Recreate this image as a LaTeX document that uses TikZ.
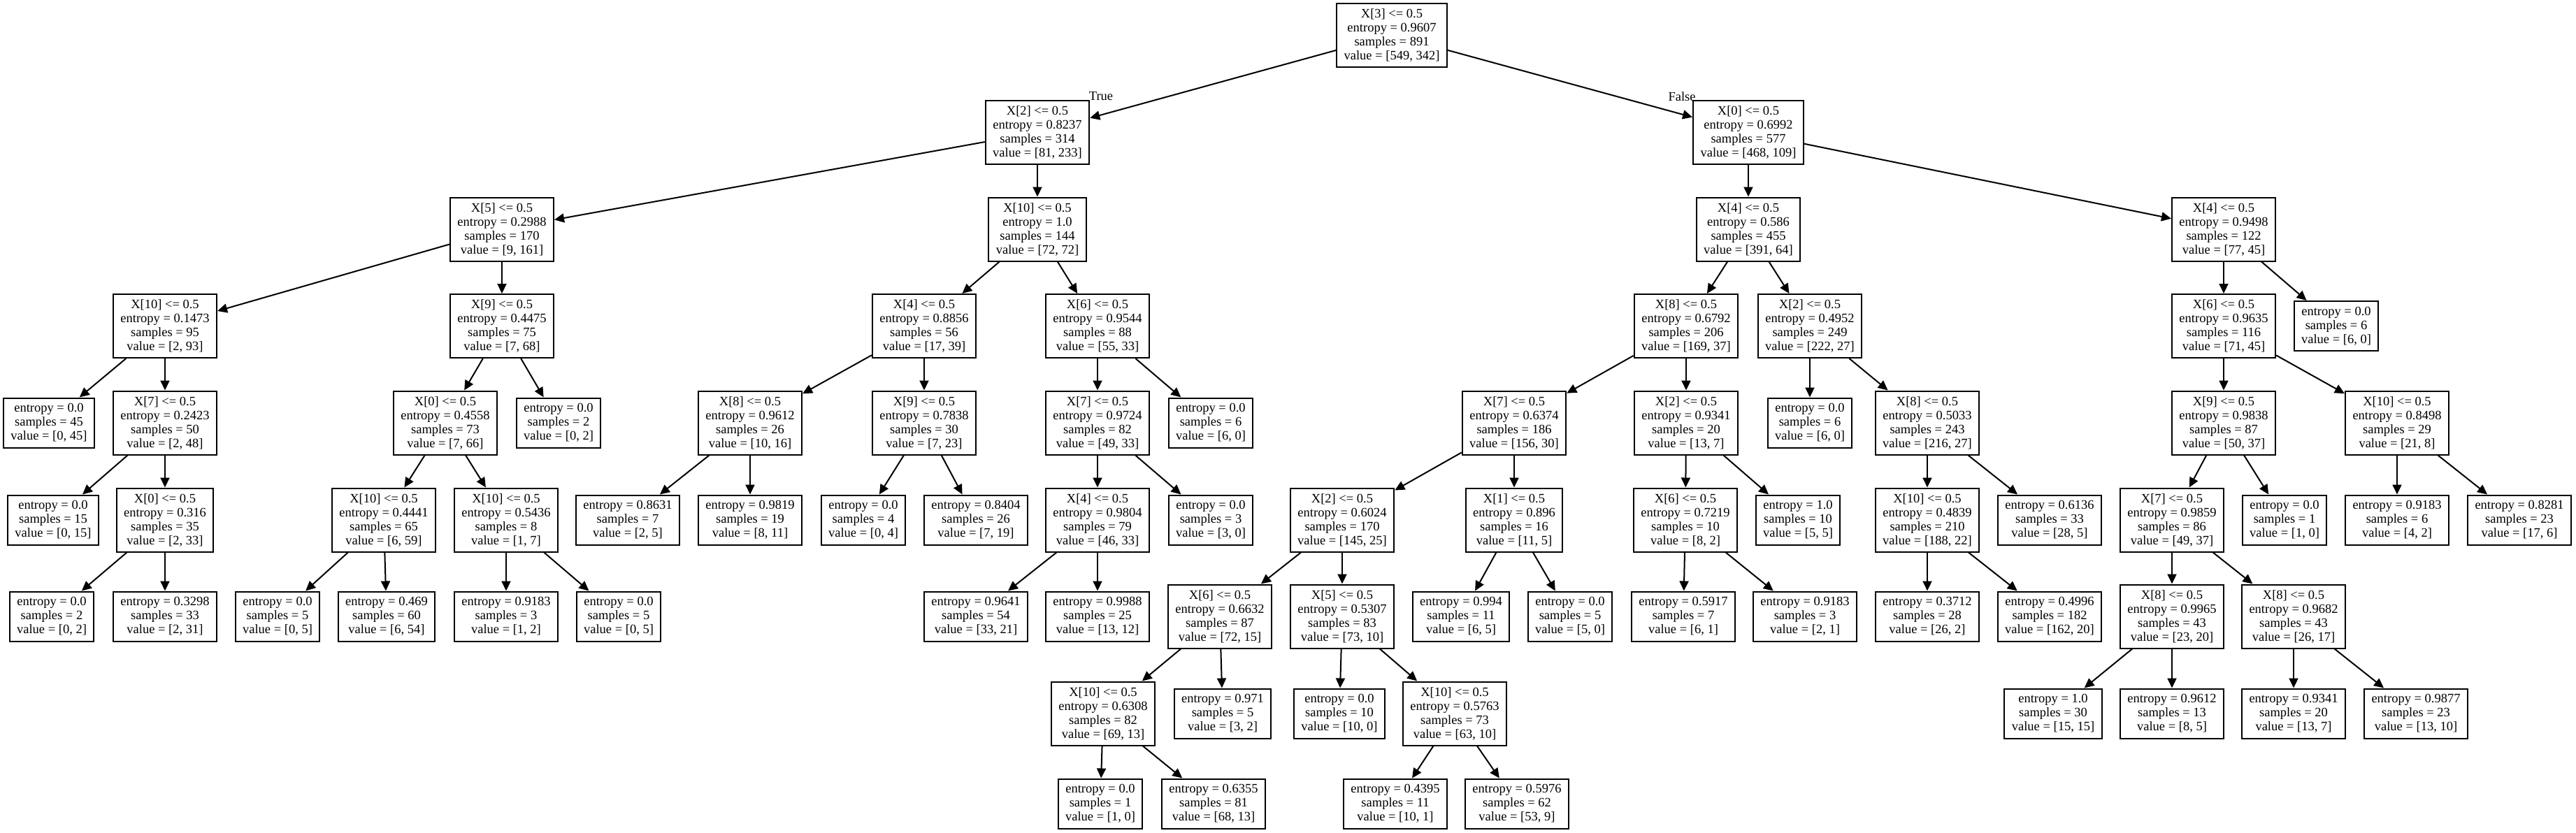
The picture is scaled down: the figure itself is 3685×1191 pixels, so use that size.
\documentclass[tikz,border=0pt]{standalone}
\usepackage{fontspec}
\setmainfont{Liberation Serif}
\usetikzlibrary{arrows.meta}
\newcommand{\dtsplit}[7]{\node[splitbox] (#1) at (#2,#3) {X[#4] <= 0.5\\entropy = #5\\samples = #6\\value = [#7]};}
\newcommand{\dtleaf}[6]{\node[leafbox] (#1) at (#2,#3) {entropy = #4\\samples = #5\\value = [#6]};}
\begin{document}
\begin{tikzpicture}[x=0.5pt,y=-0.5pt,
  boxbase/.style={draw, line width=1pt, rectangle, align=center, inner xsep=5.25pt, inner ysep=0pt,
    font=\fontsize{9.25pt}{10pt}\selectfont},
  splitbox/.style={boxbase, minimum height=45.5pt},
  leafbox/.style={boxbase, minimum height=35.5pt},
  edgeline/.style={line width=1pt, -{Triangle[length=7pt,width=6.5pt]}},
  lbl/.style={font=\fontsize{9.25pt}{10pt}\selectfont, inner sep=0pt}]
\fill[white] (0,0) rectangle (3685,1191);
\useasboundingbox (0,0) rectangle (3685,1191);
% level 0
\dtsplit{R}{1991}{50}{3}{0.9607}{891}{549, 342}
% level 1
\dtsplit{A}{1484}{189.5}{2}{0.8237}{314}{81, 233}
\dtsplit{B}{2501}{189.5}{0}{0.6992}{577}{468, 109}
% level 2
\dtsplit{a1}{718}{328}{5}{0.2988}{170}{9, 161}
\dtsplit{a2}{1484}{328}{10}{1.0}{144}{72, 72}
\dtsplit{b1}{2501}{328}{4}{0.586}{455}{391, 64}
\dtsplit{b2}{3181}{328}{4}{0.9498}{122}{77, 45}
% level 3
\dtsplit{c1}{236}{466.5}{10}{0.1473}{95}{2, 93}
\dtsplit{c2}{718}{466.5}{9}{0.4475}{75}{7, 68}
\dtsplit{c3}{1322}{466.5}{4}{0.8856}{56}{17, 39}
\dtsplit{c4}{1570}{466.5}{6}{0.9544}{88}{55, 33}
\dtsplit{c5}{2412}{466.5}{8}{0.6792}{206}{169, 37}
\dtsplit{c6}{2589}{466.5}{2}{0.4952}{249}{222, 27}
\dtsplit{c7}{3181}{466.5}{6}{0.9635}{116}{71, 45}
\dtleaf{c8}{3342}{466.5}{0.0}{6}{6, 0}
% level 4
\dtleaf{d1}{70}{605}{0.0}{45}{0, 45}
\dtsplit{d2}{236}{605}{7}{0.2423}{50}{2, 48}
\dtsplit{d3}{637}{605}{0}{0.4558}{73}{7, 66}
\dtleaf{d4}{799}{605}{0.0}{2}{0, 2}
\dtsplit{d5}{1073}{605}{8}{0.9612}{26}{10, 16}
\dtsplit{d6}{1322}{605}{9}{0.7838}{30}{7, 23}
\dtsplit{d7}{1570}{605}{7}{0.9724}{82}{49, 33}
\dtleaf{d8}{1732}{605}{0.0}{6}{6, 0}
\dtsplit{d9}{2166}{605}{7}{0.6374}{186}{156, 30}
\dtsplit{d10}{2412}{605}{2}{0.9341}{20}{13, 7}
\dtleaf{d11}{2589}{605}{0.0}{6}{6, 0}
\dtsplit{d12}{2757}{605}{8}{0.5033}{243}{216, 27}
\dtsplit{d13}{3181}{605}{9}{0.9838}{87}{50, 37}
\dtsplit{d14}{3429}{605}{10}{0.8498}{29}{21, 8}
% level 5
\dtleaf{e1}{76}{744}{0.0}{15}{0, 15}
\dtsplit{e2}{236}{744}{0}{0.316}{35}{2, 33}
\dtsplit{e3}{549}{744}{10}{0.4441}{65}{6, 59}
\dtsplit{e4}{724}{744}{10}{0.5436}{8}{1, 7}
\dtleaf{e5}{898}{744}{0.8631}{7}{2, 5}
\dtleaf{e6}{1073}{744}{0.9819}{19}{8, 11}
\dtleaf{e7}{1235}{744}{0.0}{4}{0, 4}
\dtleaf{e8}{1396}{744}{0.8404}{26}{7, 19}
\dtsplit{e9}{1570}{744}{4}{0.9804}{79}{46, 33}
\dtleaf{e10}{1732}{744}{0.0}{3}{3, 0}
\dtsplit{e11}{1920}{744}{2}{0.6024}{170}{145, 25}
\dtsplit{e12}{2166}{744}{1}{0.896}{16}{11, 5}
\dtsplit{e13}{2411}{744}{6}{0.7219}{10}{8, 2}
\dtleaf{e14}{2572}{744}{1.0}{10}{5, 5}
\dtsplit{e15}{2757}{744}{10}{0.4839}{210}{188, 22}
\dtleaf{e16}{2932}{744}{0.6136}{33}{28, 5}
\dtsplit{e17}{3107}{744}{7}{0.9859}{86}{49, 37}
\dtleaf{e18}{3268}{744}{0.0}{1}{1, 0}
\dtleaf{e19}{3429}{744}{0.9183}{6}{4, 2}
\dtleaf{e20}{3604}{744}{0.8281}{23}{17, 6}
% level 6
\dtleaf{f1}{74}{882}{0.0}{2}{0, 2}
\dtleaf{f2}{236}{882}{0.3298}{33}{2, 31}
\dtleaf{f3}{397}{882}{0.0}{5}{0, 5}
\dtleaf{f4}{553}{882}{0.469}{60}{6, 54}
\dtleaf{f5}{724}{882}{0.9183}{3}{1, 2}
\dtleaf{f6}{885}{882}{0.0}{5}{0, 5}
\dtleaf{f7}{1396}{882}{0.9641}{54}{33, 21}
\dtleaf{f8}{1570}{882}{0.9988}{25}{13, 12}
\dtsplit{f9}{1745}{882}{6}{0.6632}{87}{72, 15}
\dtsplit{f10}{1920}{882}{5}{0.5307}{83}{73, 10}
\dtleaf{f11}{2090}{882}{0.994}{11}{6, 5}
\dtleaf{f12}{2246}{882}{0.0}{5}{5, 0}
\dtleaf{f13}{2408}{882}{0.5917}{7}{6, 1}
\dtleaf{f14}{2582}{882}{0.9183}{3}{2, 1}
\dtleaf{f15}{2757}{882}{0.3712}{28}{26, 2}
\dtleaf{f16}{2932}{882}{0.4996}{182}{162, 20}
\dtsplit{f17}{3107}{882}{8}{0.9965}{43}{23, 20}
\dtsplit{f18}{3281}{882}{8}{0.9682}{43}{26, 17}
% level 7
\dtsplit{g1}{1578}{1021}{10}{0.6308}{82}{69, 13}
\dtleaf{g2}{1749}{1021}{0.971}{5}{3, 2}
\dtleaf{g3}{1916}{1021}{0.0}{10}{10, 0}
\dtsplit{g4}{2081}{1021}{10}{0.5763}{73}{63, 10}
\dtleaf{g5}{2937}{1021}{1.0}{30}{15, 15}
\dtleaf{g6}{3107}{1021}{0.9612}{13}{8, 5}
\dtleaf{g7}{3281}{1021}{0.9341}{20}{13, 7}
\dtleaf{g8}{3456}{1021}{0.9877}{23}{13, 10}
% level 8
\dtleaf{h1}{1574}{1150}{0.0}{1}{1, 0}
\dtleaf{h2}{1736}{1150}{0.6355}{81}{68, 13}
\dtleaf{h3}{1996}{1150}{0.4395}{11}{10, 1}
\dtleaf{h4}{2170}{1150}{0.5976}{62}{53, 9}
% edges
\foreach \p/\c in {R/A, R/B, A/a1, A/a2, B/b1, B/b2,
  a1/c1, a1/c2, a2/c3, a2/c4, b1/c5, b1/c6, b2/c7, b2/c8,
  c1/d1, c1/d2, c2/d3, c2/d4, c3/d5, c3/d6, c4/d7, c4/d8, c5/d9, c5/d10, c6/d11, c6/d12, c7/d13, c7/d14,
  d2/e1, d2/e2, d3/e3, d3/e4, d5/e5, d5/e6, d6/e7, d6/e8, d7/e9, d7/e10, d9/e11, d9/e12, d10/e13, d10/e14,
  d12/e15, d12/e16, d13/e17, d13/e18, d14/e19, d14/e20,
  e2/f1, e2/f2, e3/f3, e3/f4, e4/f5, e4/f6, e9/f7, e9/f8, e11/f9, e11/f10, e12/f11, e12/f12,
  e13/f13, e13/f14, e15/f15, e15/f16, e17/f17, e17/f18,
  f9/g1, f9/g2, f10/g3, f10/g4, f17/g5, f17/g6, f18/g7, f18/g8,
  g1/h1, g1/h2, g4/h3, g4/h4}
  \draw[edgeline] (\p) -- (\c);
% edge labels
\node[lbl] (truelbl) at (1575,138) {True};
\node[lbl] (falselbl) at (2406,138) {False};
\end{tikzpicture}
\end{document}
